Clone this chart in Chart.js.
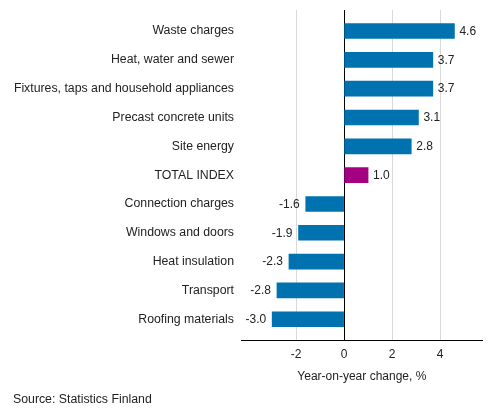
<!DOCTYPE html>
<html><head><meta charset="utf-8">
<script src="https://cdn.jsdelivr.net/npm/chart.js@4/dist/chart.umd.min.js"></script>
<style>html,body{margin:0;padding:0;background:#fff;}#wrap{width:493px;height:416px;}</style>
</head><body><div id="wrap"><canvas id="c" width="493" height="416"></canvas></div>
<script>
const categories = ["Waste charges","Heat, water and sewer","Fixtures, taps and household appliances","Precast concrete units","Site energy","TOTAL INDEX","Connection charges","Windows and doors","Heat insulation","Transport","Roofing materials"];
const changes = [4.6, 3.7, 3.7, 3.1, 2.8, 1.0, -1.6, -1.9, -2.3, -2.8, -3.0];
const highlight = "TOTAL INDEX";
const xTicks = [-2, 0, 2, 4];
const axisTitle = "Year-on-year change, %";
const sourceText = "Source: Statistics Finland";

const FONT = "'Liberation Sans', Arial, sans-serif";
const BLUE = "#0072b0", PURPLE = "#a5007f";

const bandPlugin = {
  id: 'band',
  afterLayout(chart) {
    const y = chart.scales.y;
    y._startValue = -0.73;
    y._valueRange = 11.46;
    y._labelItems = null;
  }
};
const labelPlugin = {
  id: 'vals',
  afterDatasetsDraw(chart) {
    const ctx = chart.ctx;
    const meta = chart.getDatasetMeta(0);
    ctx.save();
    ctx.font = "12px " + FONT;
    ctx.fillStyle = "#222";
    ctx.textBaseline = "middle";
    meta.data.forEach((bar, i) => {
      const v = changes[i];
      const t = v.toFixed(1);
      if (v >= 0) { ctx.textAlign = "left"; ctx.fillText(t, bar.x + 5, bar.y + 0.5); }
      else { ctx.textAlign = "right"; ctx.fillText(t, bar.x - 6, bar.y + 0.5); }
    });
    ctx.font = "12.3px " + FONT;
    ctx.textAlign = "left";
    ctx.fillText(sourceText, 13, 399.5);
    ctx.restore();
  }
};

new Chart(document.getElementById('c'), {
  type: 'bar',
  data: {
    labels: categories,
    datasets: [{
      data: changes,
      backgroundColor: categories.map(c => c === highlight ? PURPLE : BLUE),
      barThickness: 15,
      borderWidth: 0
    }]
  },
  options: {
    indexAxis: 'y',
    responsive: false,
    animation: false,
    devicePixelRatio: 1,
    layout: { padding: { left: 0, right: 11, top: 10, bottom: 32 } },
    plugins: { legend: { display: false }, tooltip: { enabled: false } },
    scales: {
      x: {
        min: -4.27, max: 5.75,
        afterBuildTicks(s) { s.ticks = xTicks.map(v => ({ value: v })); },
        afterFit(s) { s.height = 43.7; s.paddingLeft = 0; s.paddingRight = 0; },
        grid: {
          drawTicks: false, tickLength: 0,
          color: ctx => (ctx.tick && ctx.tick.value === 0) ? '#000' : '#d9d9d9',
          lineWidth: 1
        },
        border: { display: true, color: '#000', width: 1 },
        ticks: { font: { size: 12, family: FONT }, color: '#222', padding: 7, callback: v => String(v) },
        title: { display: true, text: axisTitle, font: { size: 12, family: FONT }, color: '#222', padding: { top: 4, bottom: 0 } }
      },
      y: {
        afterFit(s) { s.width = 241.7; s.paddingTop = 0; s.paddingBottom = 0; },
        grid: { display: false, drawTicks: false, tickLength: 0 },
        border: { display: false },
        ticks: { font: { size: 12.3, family: FONT }, color: '#222', padding: 7.7, autoSkip: false }
      }
    }
  },
  plugins: [bandPlugin, labelPlugin]
});
</script></body></html>
